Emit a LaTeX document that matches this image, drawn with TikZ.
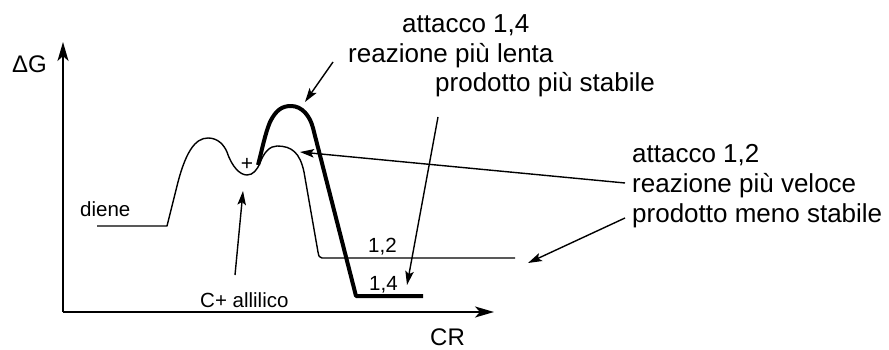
\documentclass[tikz,border=0pt]{standalone}
\usepackage{fontspec}
\setmainfont{Liberation Sans}
\usetikzlibrary{arrows.meta}
\tikzset{
  big/.style={font=\fontsize{26}{29}\selectfont, inner sep=0pt, anchor=base west},
  small/.style={font=\fontsize{20.5}{24}\selectfont, inner sep=0pt, anchor=base west},
  axlab/.style={font=\fontsize{24}{28}\selectfont, inner sep=0pt, anchor=base west},
  thin/.style={line width=1.4pt, line join=round},
  thick path/.style={line width=4pt, line join=round},
  axis/.style={line width=2pt, -{Stealth[length=19pt,width=11pt,inset=5pt]}},
  pointer/.style={line width=1.4pt, -{Stealth[length=14pt,width=8.5pt,inset=3pt]}}
}
\begin{document}
\begin{tikzpicture}[x=1pt,y=-1pt]
\useasboundingbox (0,0) rectangle (889,350);
% axes
\coordinate (O) at (63,312);
\coordinate (Ytop) at (63,42);
\coordinate (Xend) at (494,312);
\draw[axis] (O) -- (Ytop);
\draw[axis] (O) -- (Xend);
\node[axlab] (dG) at (12,73) {ΔG};
\node[axlab] (CR) at (430,345) {CR};
% thin profile (1,2)
\draw[thin] (97,226) -- (167,226) -- (176,190)
  .. controls (185,152) and (195,138) .. (208,138)
  .. controls (218,138) and (224,145) .. (227,152)
  .. controls (232,167) and (240,175) .. (247,175)
  .. controls (253,175) and (257,170) .. (260,163)
  .. controls (264,152) and (270,146) .. (277,146)
  .. controls (292,146) and (300,153) .. (304,172)
  -- (318,252) .. controls (319,257) .. (322,258) -- (515,258);
% thick profile (1,4)
\draw[thick path] (258,165)
  .. controls (262,150) and (265,134) .. (270,122)
  .. controls (276,110) and (282,106) .. (291,106)
  .. controls (302,106) and (310,116) .. (313,128)
  -- (356,296) -- (423,296);
% labels
\node[small] (diene) at (80,216) {diene};
\node[small] (ca) at (200,307) {C+ allilico};
\node[small] (l12) at (368,252) {1,2};
\node[small] (l14) at (369,290) {1,4};
\node[font=\fontsize{21}{24}\selectfont, inner sep=0pt] (plus) at (247,164) {+};
\node[big] (t1) at (402,33) {attacco 1,4};
\node[big] (t2) at (348,63) {reazione più lenta};
\node[big] (t3) at (435,92) {prodotto più stabile};
\node[big] (r1) at (632,163) {attacco 1,2};
\node[big] (r2) at (632,193) {reazione più veloce};
\node[big] (r3) at (632,222) {prodotto meno stabile};
% pointer ends
\coordinate (a1s) at (333,62);  \coordinate (a1e) at (305,102);
\coordinate (a2s) at (438,117); \coordinate (a2e) at (407,285);
\coordinate (a3s) at (625,183); \coordinate (a3e) at (300,152);
\coordinate (a4s) at (625,218); \coordinate (a4e) at (528,263);
\coordinate (a5s) at (235,275); \coordinate (a5e) at (243,191);
\draw[pointer] (a1s) -- (a1e);
\draw[pointer] (a2s) -- (a2e);
\draw[pointer] (a3s) -- (a3e);
\draw[pointer] (a4s) -- (a4e);
\draw[pointer] (a5s) -- (a5e);
\end{tikzpicture}
\end{document}
